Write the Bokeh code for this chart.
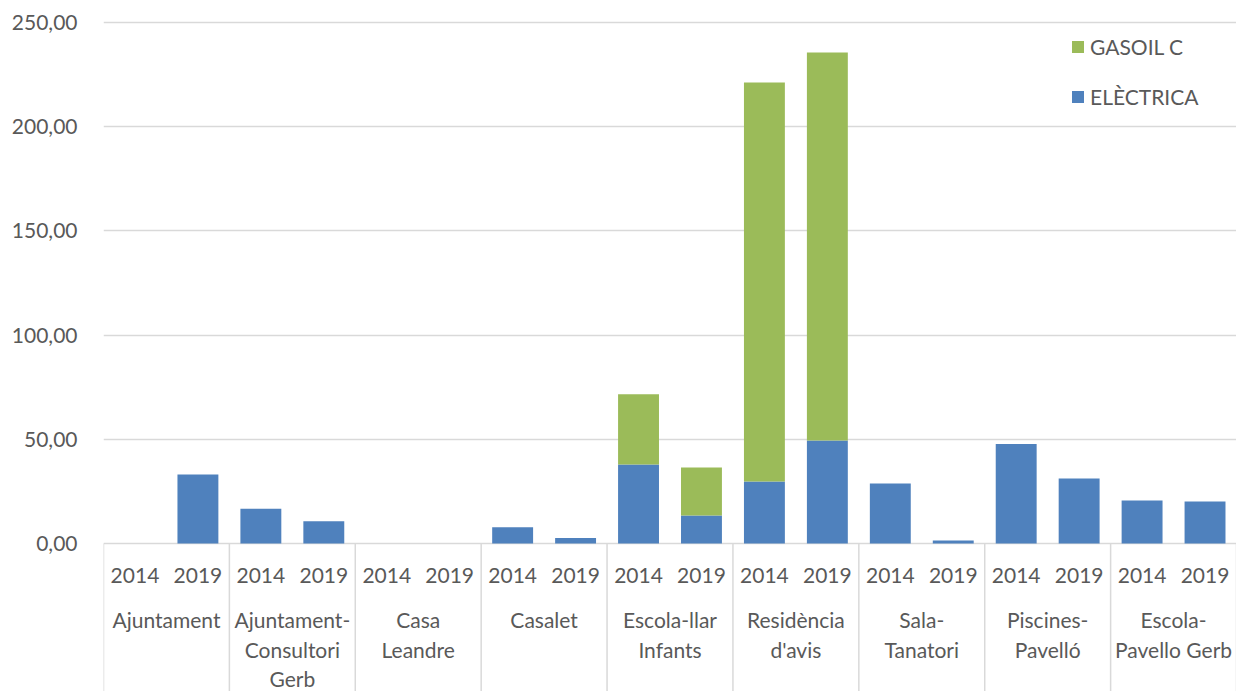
from bokeh.plotting import figure
from bokeh.models import (ColumnDataSource, FactorRange, Range1d, FixedTicker,
                          Legend, LegendItem)
from bokeh.core.properties import value
from bokeh.embed import file_html
from bokeh.resources import INLINE

# ---------------- data ----------------
buildings = ["Ajuntament", "Ajuntament-Consultori Gerb", "Casa Leandre", "Casalet",
             "Escola-llar Infants", "Residència d'avis", "Sala-Tanatori",
             "Piscines-Pavelló", "Escola-Pavello Gerb"]
building_labels = ["Ajuntament", "Ajuntament-\nConsultori\nGerb", "Casa\nLeandre", "Casalet",
                   "Escola-llar\nInfants", "Residència\nd'avis", "Sala-\nTanatori",
                   "Piscines-\nPavelló", "Escola-\nPavello Gerb"]
years = ["2014", "2019"]
electrica = [0.0, 33.1, 16.7, 10.7, 0.0, 0.0, 7.8, 2.6, 37.9, 13.4,
             29.8, 49.4, 28.8, 1.4, 47.7, 31.2, 20.6, 20.2]
gasoil_c = [0.0, 0.0, 0.0, 0.0, 0.0, 0.0, 0.0, 0.0, 33.7, 23.1,
            191.4, 186.2, 0.0, 0.0, 0.0, 0.0, 0.0, 0.0]
y_ticks = [0, 50, 100, 150, 200, 250]

# ---------------- styles ----------------
FONT = "Lato"
TXT = "#595959"
GRID = "#D9D9D9"
BLUE = "#4F81BD"
GREEN = "#9BBB59"
FS = "21px"

x = [(b, yr) for b in buildings for yr in years]
src = ColumnDataSource(dict(x=x, ELECTRICA=electrica, GASOIL=gasoil_c))

p = figure(x_range=FactorRange(factors=x, factor_padding=0, group_padding=0,
                               subgroup_padding=0, range_padding=0),
           y_range=Range1d(-71.0, 260.56),
           width=1236, height=691, output_backend="svg", toolbar_location=None,
           min_border_left=103, min_border_right=0, min_border_top=0,
           min_border_bottom=0)
p.outline_line_color = None
p.background_fill_color = "white"
p.border_fill_color = "white"

rs = p.vbar_stack(["ELECTRICA", "GASOIL"], x="x", width=0.65, source=src,
                  color=[BLUE, GREEN], line_color=None)

# y axis
p.yaxis.ticker = FixedTicker(ticks=y_ticks)
p.yaxis.major_label_overrides = {t: f"{t:.2f}".replace(".", ",") for t in y_ticks}
p.yaxis.axis_line_color = None
p.yaxis.major_tick_line_color = None
p.yaxis.minor_tick_line_color = None
p.yaxis.major_label_text_font = FONT
p.yaxis.major_label_text_font_size = FS
p.yaxis.major_label_text_color = TXT
p.yaxis.major_label_standoff = 20

p.ygrid.ticker = FixedTicker(ticks=y_ticks)
p.ygrid.grid_line_color = GRID
p.ygrid.grid_line_width = 1.5
p.xgrid.grid_line_color = None
p.xaxis.visible = False

# category separators below the axis
sep_x = [(b, years[0], -0.5) for b in buildings] + [(buildings[-1], years[-1], 0.5)]
p.segment(x0=sep_x, y0=[0] * len(sep_x), x1=sep_x, y1=[-71.0] * len(sep_x),
          line_color=GRID, line_width=1.5)

# year labels
p.text(x=x, y=[-15.4] * len(x), text=[xx[1] for xx in x], text_font=value(FONT),
       text_font_size=FS, text_color=TXT, text_align="center",
       text_baseline="middle")
# building labels
p.text(x=buildings, y=[-30.4] * len(buildings), text=building_labels,
       text_font=value(FONT), text_font_size=FS, text_color=TXT,
       text_align="center", text_baseline="top", text_line_height=1.19)

legend = Legend(items=[LegendItem(label="GASOIL C", renderers=[rs[1]]),
                       LegendItem(label="ELÈCTRICA", renderers=[rs[0]])],
                location=(967, 582), orientation="vertical")
legend.border_line_color = None
legend.background_fill_alpha = 0
legend.padding = 0
legend.margin = 0
legend.spacing = 25
legend.glyph_width = 15
legend.glyph_height = 15
legend.label_height = 20
legend.label_standoff = 5
legend.label_text_font = FONT
legend.label_text_font_size = FS
legend.label_text_color = TXT
p.add_layout(legend)

open("out.html", "w").write(file_html(p, INLINE))
